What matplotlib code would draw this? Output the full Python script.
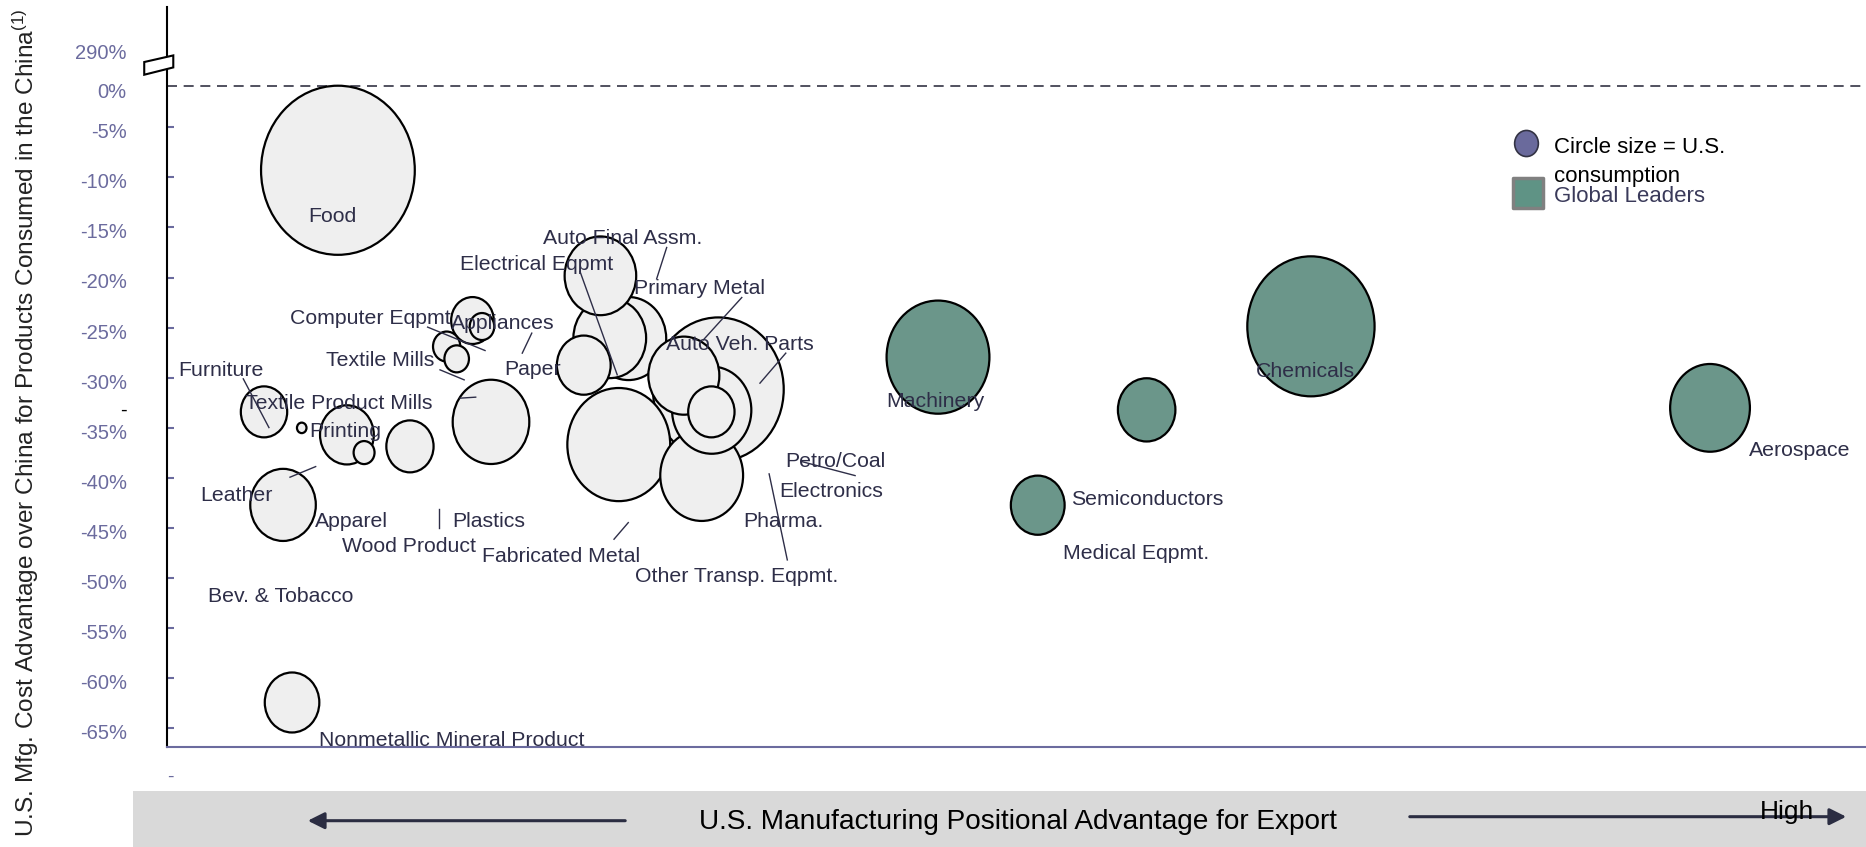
import matplotlib
matplotlib.use("Agg")
import matplotlib.pyplot as plt
import numpy as np
from matplotlib.path import Path
from matplotlib.markers import MarkerStyle
from matplotlib.patches import Polygon, Rectangle, FancyArrowPatch
from matplotlib.transforms import Affine2D, ScaledTranslation

plt.rcParams.update({
    "font.family": ["Liberation Sans", "DejaVu Sans"],
    "mathtext.fontset": "custom",
    "mathtext.rm": "Liberation Sans",
    "mathtext.it": "Liberation Sans",
})

C_TICK = "#6b6b9e"
C_TEXT = "#2e2e48"
C_GRAY = "#efefef"
C_GREEN = "#6b968a"

# ---- data -------------------------------------------------------------
# x: positional advantage for export (relative scale 0-100)
# y: U.S. cost advantage over China (%)
# size: relative U.S. consumption
OTHER_X = [10.06, 5.71, 6.83, 7.93, 10.59, 11.60, 14.30, 19.07, 17.98, 18.54,
           16.46, 17.05, 24.53, 25.51, 26.06, 27.16, 26.59, 32.45, 30.42,
           32.06, 32.04, 31.47, 7.36]
OTHER_Y = [-9.28, -33.43, -42.73, -35.03, -35.73, -37.50, -36.88, -34.43,
           -24.30, -24.90, -26.90, -28.13, -28.76, -19.83, -26.06, -26.10,
           -36.70, -31.18, -29.81, -33.26, -33.43, -39.78, -62.48]
OTHER_SIZE = [286, 26, 52, 1.1, 35, 5.3, 27, 71, 22, 7.3, 9, 7.3, 35, 62, 64,
              69, 128, 207, 61, 76, 26, 83, 36]

LEADER_X = [45.38, 57.66, 51.25, 67.33, 90.82]
LEADER_Y = [-27.96, -33.23, -42.76, -24.88, -33.03]
LEADER_SIZE = [128, 40, 35, 196, 77]

Y_TICKS = [-65, -60, -55, -50, -45, -40, -35, -30, -25, -20, -15, -10, -5]

# sector labels: text, x, y, ha
LABELS = [
    ("Food", 9.71, -13.53, "center"),
    ("Computer Eqpmt", 7.24, -23.80, "left"),
    ("Appliances", 16.72, -24.30, "left"),
    ("Textile Mills", 9.34, -27.96, "left"),
    ("Paper", 19.84, -28.80, "left"),
    ("Furniture", 0.67, -28.96, "left"),
    ("Textile Product Mills", 4.59, -32.23, "left"),
    ("Printing", 8.36, -35.03, "left"),
    ("Leather", 1.94, -41.40, "left"),
    ("Apparel", 8.71, -44.00, "left"),
    ("Plastics", 16.79, -44.00, "left"),
    ("Wood Product", 10.32, -46.50, "left"),
    ("Fabricated Metal", 18.52, -47.56, "left"),
    ("Bev. & Tobacco", 2.40, -51.56, "left"),
    ("Nonmetallic Mineral Product", 8.95, -65.96, "left"),
    ("Electrical Eqpmt", 17.25, -18.33, "left"),
    ("Auto Final Assm.", 22.15, -15.80, "left"),
    ("Primary Metal", 27.50, -20.80, "left"),
    ("Auto Veh. Parts", 29.35, -26.33, "left"),
    ("Petro/Coal", 36.37, -38.00, "left"),
    ("Electronics", 36.02, -41.06, "left"),
    ("Pharma.", 33.92, -44.00, "left"),
    ("Other Transp. Eqpmt.", 27.54, -49.56, "left"),
    ("Machinery", 42.36, -32.00, "left"),
    ("Semiconductors", 53.19, -41.83, "left"),
    ("Medical Eqpmt.", 52.75, -47.23, "left"),
    ("Chemicals", 66.98, -29.06, "center"),
    ("Aerospace", 93.11, -36.93, "left"),
]

# leader lines: (x0, y0, x1, y1)
LEADERS = [
    (4.49, -30.13, 6.00, -35.00),
    (15.34, -24.96, 18.72, -27.30),
    (16.07, -29.23, 17.49, -30.23),
    (20.91, -27.56, 21.47, -25.56),
    (17.25, -32.06, 18.17, -31.96),
    (7.24, -39.96, 8.75, -38.90),
    (16.01, -43.16, 16.01, -45.06),
    (24.31, -19.40, 26.50, -29.73),
    (29.41, -17.00, 28.82, -20.13),
    (33.83, -22.00, 31.57, -26.23),
    (36.42, -27.56, 34.90, -30.56),
    (27.15, -44.50, 26.31, -46.16),
    (37.36, -38.40, 40.50, -39.80),
    (35.44, -39.63, 36.51, -48.23),
]

SIZE_SCALE = 51.84  # points^2 per consumption unit


def ellipse_marker(aspect=1.1):
    circ = Path.unit_circle()
    verts = Affine2D().scale(1 / aspect, 1).transform(circ.vertices)
    return MarkerStyle(Path(verts, circ.codes))


def main():
    fig = plt.figure(figsize=(18.66, 8.47), dpi=100)
    ax = fig.add_axes([167 / 1866, 100.3 / 847, 1 - 167 / 1866, 740 / 847])
    ax.set_xlim(0, 100)
    ax.set_ylim(-66.9, 7.07)
    down = ScaledTranslation(0, -2.5 / 72, fig.dpi_scale_trans)

    marker = ellipse_marker()

    # draw larger bubbles first so smaller ones sit on top
    order = np.argsort(OTHER_SIZE)[::-1]
    ax.scatter(np.array(OTHER_X)[order], np.array(OTHER_Y)[order],
               s=np.array(OTHER_SIZE)[order] * SIZE_SCALE, marker=marker,
               facecolor=C_GRAY, edgecolor="black", linewidth=1.6,
               zorder=3, clip_on=False)
    order = np.argsort(LEADER_SIZE)[::-1]
    ax.scatter(np.array(LEADER_X)[order], np.array(LEADER_Y)[order],
               s=np.array(LEADER_SIZE)[order] * SIZE_SCALE, marker=marker,
               facecolor=C_GREEN, edgecolor="black", linewidth=1.6,
               zorder=3, clip_on=False)

    for text, x, y, ha in LABELS:
        ax.text(x, y, text, ha=ha, va="center", fontsize=15.3, color=C_TEXT,
                zorder=5, clip_on=False, transform=ax.transData + down)
    for x0, y0, x1, y1 in LEADERS:
        ax.plot([x0, x1], [y0, y1], color=C_TEXT, lw=1.0, zorder=4)

    # 0% reference line
    ax.axhline(-0.9, color="#333344", lw=1.2, linestyle=(0, (6, 4)), zorder=2)

    # axes styling
    for side in ("top", "right"):
        ax.spines[side].set_visible(False)
    ax.spines["left"].set_color("black")
    ax.spines["left"].set_linewidth(1.5)
    ax.spines["bottom"].set_color(C_TICK)
    ax.spines["bottom"].set_linewidth(1.5)
    ax.set_xticks([])

    ticks = Y_TICKS + [-32.7, -0.98, 2.92]
    labels = [f"{t}%" for t in Y_TICKS] + ["-", "0%", "290%"]
    ax.set_yticks(ticks)
    ax.set_yticklabels(labels)
    ax.tick_params(axis="y", direction="in", length=5, width=1.5,
                   color=C_TICK, labelcolor=C_TICK, labelsize=14.5, pad=29)
    for t in ax.yaxis.get_major_ticks()[len(Y_TICKS):]:
        t.tick1line.set_visible(False)
    for lab in ax.get_yticklabels():
        lab.set_transform(lab.get_transform() + down)
    ax.yaxis.get_major_ticks()[len(Y_TICKS)].label1.set_color("black")
    ax.text(0.18, -70.0, "-", ha="center", va="center", fontsize=14,
            color=C_TICK, clip_on=False)

    # axis break symbol
    brk = Polygon([(-1.34, 1.54), (0.37, 2.20), (0.37, 1.00), (-1.34, 0.27)],
                  closed=True, facecolor="white", edgecolor="black", lw=1.5,
                  clip_on=False, zorder=6)
    ax.add_patch(brk)

    fig.text(25.5 / 1866, 424 / 847,
             "U.S. Mfg. Cost Advantage over China for Products Consumed "
             "in the China$^{\\mathrm{(1)}}$", rotation=90, ha="center",
             va="center", fontsize=17.6, color="#222222")

    # legend
    ax.scatter([80.0], [-6.53], s=6.8 * SIZE_SCALE, marker=marker,
               facecolor="#6a6a9c", edgecolor="#333344", lw=1.2,
               zorder=5, clip_on=False)
    ax.scatter([80.09], [-11.6], s=480, marker="s", facecolor="#5f9385",
               edgecolor="#808080", lw=2.5, zorder=5, clip_on=False)
    for text, y, col in [("Circle size = U.S.", -6.66, "black"),
                         ("consumption", -9.53, "black"),
                         ("Global Leaders", -11.56, "#3a3a5a")]:
        ax.text(81.65, y, text, fontsize=16, color=col, va="center",
                transform=ax.transData + down)

    # x-axis band
    fig.add_artist(Rectangle((132.7 / 1866, 0), 1 - 132.7 / 1866,
                             56.3 / 847, transform=fig.transFigure,
                             facecolor="#d9d9d9", edgecolor="none", zorder=0))
    fig.text(1017.7 / 1866, 25 / 847,
             "U.S. Manufacturing Positional Advantage for Export",
             ha="center", va="center", fontsize=20.2, color="black")
    arrow_kw = dict(transform=fig.transFigure, arrowstyle="-|>",
                    mutation_scale=25, color="#2b2d42", lw=2.2)
    fig.add_artist(FancyArrowPatch((628 / 1866, 26.3 / 847),
                                   (305 / 1866, 26.3 / 847), **arrow_kw))
    fig.add_artist(FancyArrowPatch((1407 / 1866, 30.3 / 847),
                                   (1849 / 1866, 30.3 / 847), **arrow_kw))
    fig.text(1760 / 1866, 35 / 847, "High", ha="left", va="center",
             fontsize=19, color="black")

    fig.savefig("out.png", dpi=100)
    plt.close(fig)


if __name__ == "__main__":
    main()
